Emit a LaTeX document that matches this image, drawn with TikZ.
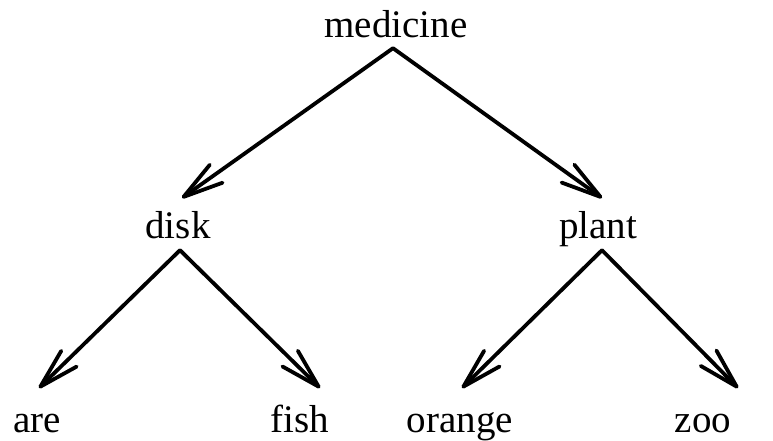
\documentclass[tikz,border=0pt]{standalone}
\usepackage{fontspec}
\setmainfont{Liberation Serif}
\usetikzlibrary{arrows.meta}

\tikzset{
  word/.style={inner sep=0pt, text depth=0pt, anchor=base,
               font=\fontsize{39}{41}\selectfont},
  branch/.style={line width=3.8pt, line cap=round, line join=round,
                 -{Straight Barb[length=40pt, width=22pt, line cap=round, line join=round]}},
}

\begin{document}
\begin{tikzpicture}[x=1pt, y=1pt]
  \useasboundingbox (0,0) rectangle (773,440);

  % words of the tree
  \node[word] (medicine) at (396,402) {medicine};
  \node[word] (disk)     at (178,202) {disk};
  \node[word] (plant)    at (598,202) {plant};
  \node[word] (are)      at (37,8)    {are};
  \node[word] (fish)     at (300,8)   {fish};
  \node[word] (orange)   at (460,8)   {orange};
  \node[word] (zoo)      at (703,8)   {zoo};

  % where the arrows end, just above each child word
  \coordinate (disk-in)   at (182,242);
  \coordinate (plant-in)  at (602,242);
  \coordinate (are-in)    at (39,52);
  \coordinate (fish-in)   at (320,52);
  \coordinate (orange-in) at (462,52);
  \coordinate (zoo-in)    at (738,52);

  % branches
  \draw[branch] ([xshift=-3pt,yshift=-10pt]medicine.south) -- (disk-in);
  \draw[branch] ([xshift=-3pt,yshift=-10pt]medicine.south) -- (plant-in);
  \draw[branch] ([xshift=2pt,yshift=-12pt]disk.south) -- (are-in);
  \draw[branch] ([xshift=2pt,yshift=-12pt]disk.south) -- (fish-in);
  \draw[branch] ([xshift=4pt,yshift=-12pt]plant.south) -- (orange-in);
  \draw[branch] ([xshift=4pt,yshift=-12pt]plant.south) -- (zoo-in);
\end{tikzpicture}
\end{document}
